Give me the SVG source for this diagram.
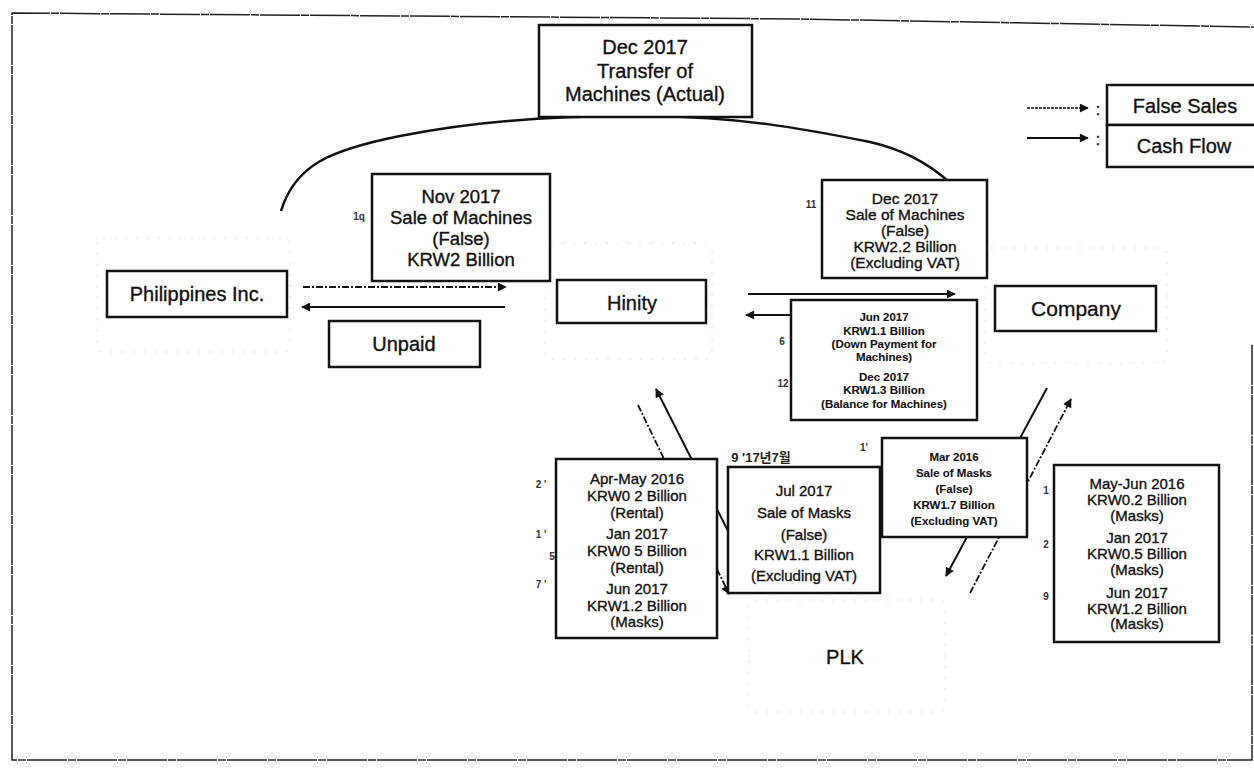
<svg xmlns="http://www.w3.org/2000/svg" width="1254" height="769" viewBox="0 0 1254 769">
<style>
.box{fill:#fff;stroke:#111;stroke-width:2.5}
.faint{fill:none;stroke:#d6d6d6;stroke-width:1;stroke-dasharray:2 9}
.t{font-family:"Liberation Sans",Arial,sans-serif;fill:#111;stroke:#111;stroke-width:0.35;text-anchor:middle}
.big{font-size:20px}
.mid{font-size:15px}
.sm{font-size:11.5px;font-weight:bold;stroke-width:0.1}
.noise{font-family:"Liberation Sans",Arial,sans-serif;font-size:10px;font-weight:bold;fill:#333;text-anchor:middle}
.cash{fill:none;stroke:#111;stroke-width:2}
.false{fill:none;stroke:#111;stroke-width:1.8;stroke-dasharray:7 2 2 2}
</style>
<defs>
<marker id="ah" viewBox="0 0 10 10" refX="9" refY="5" markerWidth="11" markerHeight="9" markerUnits="userSpaceOnUse" orient="auto">
<path d="M0,0 L10,5 L0,10 z" fill="#111"/>
</marker>
</defs>
<rect width="1254" height="769" fill="#fff"/>
<path d="M1252,345 L1252,760 L12,760 L12,13 L800,19 L1254,27" fill="none" stroke="#222" stroke-width="1.5" stroke-dasharray="40 1 8 1"/>
<g id="faint-frames">
<rect class="faint" x="97" y="238" width="193" height="114" rx="6"/>
<rect class="faint" x="545" y="243" width="167" height="116" rx="6"/>
<rect class="faint" x="985" y="248" width="182" height="115" rx="6"/>
<rect class="faint" x="749" y="600" width="196" height="112" rx="6"/>
</g>
<g id="connectors">
<path d="M281,211 C295,165 330,150 400,136 C470,122 560,115 650,116 C740,117 800,128 870,142 C905,150 930,165 948,181" fill="none" stroke="#111" stroke-width="2.5"/>
<line class="false" x1="303" y1="287" x2="506" y2="287" marker-end="url(#ah)"/>
<line class="cash" x1="505" y1="307" x2="302" y2="307" marker-end="url(#ah)"/>
<line class="cash" x1="748" y1="294" x2="955" y2="294" marker-end="url(#ah)"/>
<line class="cash" x1="975" y1="315" x2="746" y2="315" marker-end="url(#ah)"/>
<line class="false" x1="638" y1="405" x2="729" y2="594" marker-end="url(#ah)"/>
<line class="cash" x1="758" y1="590" x2="656" y2="389" marker-end="url(#ah)"/>
<line class="cash" x1="1047" y1="388" x2="946" y2="576" marker-end="url(#ah)"/>
<line class="false" x1="970" y1="593" x2="1071" y2="399" marker-end="url(#ah)"/>
</g>
<g id="legend">
<line x1="1027" y1="108" x2="1088" y2="108" stroke="#111" stroke-width="1.5" stroke-dasharray="3 1" marker-end="url(#ah)"/>
<line x1="1027" y1="138" x2="1088" y2="138" stroke="#111" stroke-width="2" marker-end="url(#ah)"/>
<text class="t" x="1098" y="115" font-size="16">:</text>
<text class="t" x="1098" y="145" font-size="16" fill="#777" stroke="none">:</text>
<rect class="box" x="1107" y="85" width="150" height="40"/>
<rect class="box" x="1107" y="125" width="150" height="42"/>
<text class="t big" x="1185" y="113">False Sales</text>
<text class="t big" x="1184" y="153">Cash Flow</text>
</g>
<g id="transfer">
<rect class="box" x="539" y="25" width="213" height="92"/>
<text class="t big" x="645" y="54">Dec 2017</text>
<text class="t big" x="645" y="78">Transfer of</text>
<text class="t big" x="645" y="101">Machines (Actual)</text>
</g>
<g id="nov-sale">
<rect class="box" x="372" y="174" width="178" height="107"/>
<text class="t" x="461" y="203" font-size="18.5">Nov 2017</text>
<text class="t" x="461" y="224" font-size="18.5">Sale of Machines</text>
<text class="t" x="461" y="245" font-size="18.5">(False)</text>
<text class="t" x="461" y="266" font-size="18.5">KRW2 Billion</text>
<text class="noise" x="359" y="220">1q</text>
</g>
<g id="philippines">
<rect class="box" x="107" y="271" width="180" height="46"/>
<text class="t big" x="197" y="301">Philippines Inc.</text>
</g>
<g id="unpaid">
<rect class="box" x="329" y="321" width="151" height="46"/>
<text class="t big" x="404" y="351">Unpaid</text>
</g>
<g id="hinity">
<rect class="box" x="557" y="280" width="149" height="43"/>
<text class="t big" x="632" y="310">Hinity</text>
</g>
<g id="dec-sale">
<rect class="box" x="822" y="180" width="165" height="98"/>
<text class="t" x="905" y="204" font-size="15.5">Dec 2017</text>
<text class="t" x="905" y="220" font-size="15.5">Sale of Machines</text>
<text class="t" x="905" y="236" font-size="15.5">(False)</text>
<text class="t" x="905" y="252" font-size="15.5">KRW2.2 Billion</text>
<text class="t" x="905" y="268" font-size="15.5">(Excluding VAT)</text>
<text class="noise" x="811" y="208">11</text>
</g>
<g id="company">
<rect class="box" x="995" y="286" width="161" height="45"/>
<text class="t" x="1076" y="316" font-size="21">Company</text>
</g>
<g id="payments">
<rect class="box" x="791" y="300" width="186" height="120"/>
<text class="t sm" x="884" y="321">Jun 2017</text>
<text class="t sm" x="884" y="335">KRW1.1 Billion</text>
<text class="t sm" x="884" y="348">(Down Payment for</text>
<text class="t sm" x="884" y="361">Machines)</text>
<text class="t sm" x="884" y="381">Dec 2017</text>
<text class="t sm" x="884" y="394">KRW1.3 Billion</text>
<text class="t sm" x="884" y="408">(Balance for Machines)</text>
<text class="noise" x="782" y="345">6</text>
<text class="noise" x="783" y="387">12</text>
</g>
<g id="hinity-plk">
<rect class="box" x="556" y="459" width="161" height="179"/>
<text class="t mid" x="637" y="484">Apr-May 2016</text>
<text class="t mid" x="637" y="501">KRW0 2 Billion</text>
<text class="t mid" x="637" y="518">(Rental)</text>
<text class="t mid" x="637" y="539">Jan 2017</text>
<text class="t mid" x="637" y="556">KRW0 5 Billion</text>
<text class="t mid" x="637" y="573">(Rental)</text>
<text class="t mid" x="637" y="594">Jun 2017</text>
<text class="t mid" x="637" y="611">KRW1.2 Billion</text>
<text class="t mid" x="637" y="627">(Masks)</text>
<text class="noise" x="541" y="488">2 '</text>
<text class="noise" x="541" y="538">1 '</text>
<text class="noise" x="552" y="560">5</text>
<text class="noise" x="541" y="588">7 '</text>
</g>
<g id="jul-sale">
<rect class="box" x="728" y="467" width="152" height="126"/>
<text class="t mid" x="804" y="496">Jul 2017</text>
<text class="t mid" x="804" y="518">Sale of Masks</text>
<text class="t mid" x="804" y="540">(False)</text>
<text class="t mid" x="804" y="560">KRW1.1 Billion</text>
<text class="t mid" x="804" y="581">(Excluding VAT)</text>
<text x="761" y="462" font-family="'Liberation Sans','Noto Sans CJK KR',sans-serif" font-size="13" font-weight="bold" fill="#222" text-anchor="middle">9 '17년7월</text>
</g>
<g id="mar-sale">
<rect class="box" x="882" y="438" width="145" height="99"/>
<text class="t sm" x="954" y="461">Mar 2016</text>
<text class="t sm" x="954" y="477">Sale of Masks</text>
<text class="t sm" x="954" y="493">(False)</text>
<text class="t sm" x="954" y="509">KRW1.7 Billion</text>
<text class="t sm" x="954" y="525">(Excluding VAT)</text>
<text class="noise" x="864" y="451">1'</text>
</g>
<g id="company-plk">
<rect class="box" x="1054" y="465" width="165" height="177"/>
<text class="t mid" x="1137" y="489">May-Jun 2016</text>
<text class="t mid" x="1137" y="505">KRW0.2 Billion</text>
<text class="t mid" x="1137" y="521">(Masks)</text>
<text class="t mid" x="1137" y="543">Jan 2017</text>
<text class="t mid" x="1137" y="559">KRW0.5 Billion</text>
<text class="t mid" x="1137" y="575">(Masks)</text>
<text class="t mid" x="1137" y="598">Jun 2017</text>
<text class="t mid" x="1137" y="614">KRW1.2 Billion</text>
<text class="t mid" x="1137" y="629">(Masks)</text>
<text class="noise" x="1046" y="494">1</text>
<text class="noise" x="1046" y="548">2</text>
<text class="noise" x="1046" y="600">9</text>
</g>
<g id="plk">
<text class="t big" x="845" y="664">PLK</text>
</g>
</svg>
